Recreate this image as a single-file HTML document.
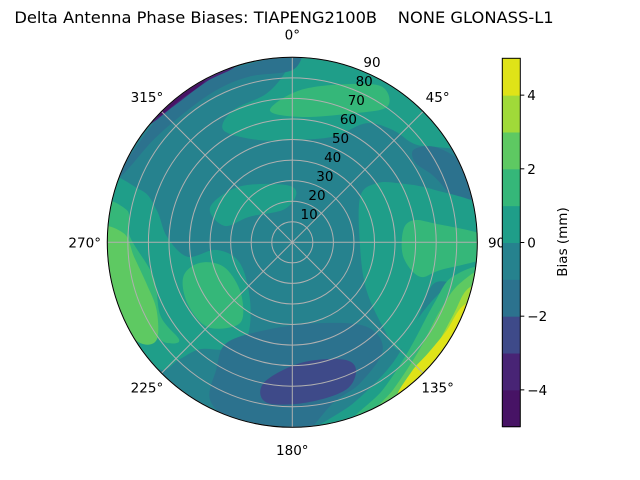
<!DOCTYPE html>
<html><head><meta charset="utf-8">
<style>
body{margin:0;background:#fff;}
#wrap{position:relative;width:640px;height:480px;overflow:hidden;font-family:"DejaVu Sans","Liberation Sans",sans-serif;}
</style></head>
<body>
<div id="wrap">
<svg id="svg" width="640" height="480" xmlns="http://www.w3.org/2000/svg">
<text x="284" y="23" font-size="16.3" text-anchor="middle" xml:space="preserve" style="white-space:pre">Delta Antenna Phase Biases: TIAPENG2100B    NONE GLONASS-L1</text>
</svg>
</div>
<script>
// ---- data ----
const levels = [-5,-4,-3,-2,-1,0,1,2,3,4,5];
const levelColors = ["#471365","#482475","#3e4a89","#2c728e","#26828e","#1f9e89","#35b779","#5ec962","#a0da39","#dfe318"];
const cbTicks = [-4,-2,0,2,4];
const cbTickLabels = ["\u22124","\u22122","0","2","4"];
const ringValues = [10,20,30,40,50,60,70,80,90];
const angleTicks = [0,45,90,135,180,225,270,315];
const baseLevel = 4;
// regions: [levelIndex, points in (east, north) zenith-degree units]
const regions = [
 [5,[[-33.5,54.6],[-28.7,64.3],[-12.5,72.4],[-2.8,83.8],[0.5,95],[36,96],[69,77],[85,53],[95,45],[69,46.5],[59,48],[49,54.6],[36,57.9],[20,51.4],[0.5,49.8],[-17,49.8]]],
 [6,[[-10.9,64.3],[3.7,74],[28,77],[44,75.5],[46,65.8],[28,62.6],[3.7,61]]],
 [3,[[59,45],[69,46.5],[81.5,40],[92,28.7],[92,17.3],[81.5,19],[69,32],[60,38.6]]],
 [5,[[33,22],[41,28.7],[52,28.7],[69,25.6],[95,15.7],[95,-7],[85,-20],[69,-20],[60,-39.4],[52,-52.4],[44,-41],[36,-23],[33,-2.6]]],
 [6,[[54,6],[59,10.7],[69,9.2],[95,2.8],[95,-7],[72,-13.5],[62,-16.7],[54,-7]]],
 [5,[[-40,17],[-26,27],[-4,28],[2,24],[-4,16],[-20.6,12.5],[-33,8]]],
 [5,[[95,-10],[77,-20],[62,-36],[49,-58.5],[30,-78],[7,-95],[52,-90],[95,-36]]],
 [6,[[95,-13.5],[78,-16.7],[69,-29.7],[57,-52],[44,-71.8],[28,-90],[69,-85],[95,-44]]],
 [7,[[95,-13.5],[81.5,-20],[72,-33],[62,-52],[49,-71.8],[36,-88],[77,-77],[95,-39]]],
 [8,[[95,-20],[85,-23],[78,-36],[69,-52],[57,-68.5],[49,-80],[77,-68.5],[95,-36]]],
 [9,[[95,-27],[83,-31],[75,-43],[66,-54],[58,-63],[52,-75],[77,-62],[95,-44]]],
 [5,[[-95,28.7],[-74,25.6],[-66,15.7],[-61,2.8],[-51,-7],[-37,-3.7],[-25.6,-10],[-20.6,-28],[-22,-46],[-32,-52],[-45,-52],[-55,-57],[-64,-62],[-77,-52],[-95,-36]]],
 [6,[[-95,17],[-80.5,15.7],[-79,2.8],[-67.6,-16.7],[-64,-36],[-55,-47.5],[-61,-49],[-67.6,-45.7],[-77,-45.7],[-95,-29.7]]],
 [7,[[-95,6],[-82,4.4],[-77,-7],[-71,-20],[-66,-33],[-66,-47.5],[-74,-49],[-84,-39.4],[-95,-23]]],
 [6,[[-53,-16.7],[-45,-10],[-33.5,-11.8],[-25.6,-23],[-24,-36],[-28.7,-41],[-41.7,-41],[-51,-29.7]]],
 [3,[[-32,-49],[-12.5,-42.6],[11.8,-39.4],[36,-41],[44,-52.4],[33,-68.5],[20,-78],[3.7,-95],[-12.5,-95],[-28.7,-88],[-40,-76.7],[-37,-62]]],
 [2,[[-14,-68.5],[3.7,-58.8],[24.5,-57],[31,-62],[26,-71.8],[6.8,-78],[-12.5,-78]]],
 [3,[[-92,25.6],[-80.5,40],[-69,56],[-56,70],[-37,82],[-16,88],[3.7,95],[0.5,84],[-20.6,80.7],[-37,74],[-53,62.6],[-67.6,49.8],[-80.5,35],[-92,23.8]]],
 [2,[[-79,46],[-66,61],[-47,76],[-26,86],[-12.5,92],[-25,96],[-50,95],[-75,80],[-87,50]]],
 [1,[[-71,57],[-58,66],[-42,78],[-27,87],[-45,95],[-68,72]]],
 [0,[[-66,61],[-55,69],[-42,79.5],[-48,88],[-63,74]]]
];
// ---- layout ----
const cx=292.3, cy=242.3, R=185, rMax=90;
const cbX=502.3, cbW=18, cbTop=58.3, cbBot=426.7;
const NS="http://www.w3.org/2000/svg";
const svg=document.getElementById('svg');
function mk(tag,attrs,parent){const e=document.createElementNS(NS,tag);for(const k in attrs)e.setAttribute(k,attrs[k]);(parent||svg).appendChild(e);return e;}
function sx(u){return cx+u*R/rMax;}
function sy(v){return cy-v*R/rMax;}
function polar(az,r){const a=az*Math.PI/180;return [cx+Math.sin(a)*r*R/rMax, cy-Math.cos(a)*r*R/rMax];}
function cbY(v){return cbBot-(v-levels[0])/(levels[levels.length-1]-levels[0])*(cbBot-cbTop);}
function smoothPath(pts){
  const P=pts.map(p=>[sx(p[0]),sy(p[1])]);const n=P.length;let d="M"+P[0][0].toFixed(1)+","+P[0][1].toFixed(1);
  for(let i=0;i<n;i++){const p0=P[(i-1+n)%n],p1=P[i],p2=P[(i+1)%n],p3=P[(i+2)%n];
    const c1=[p1[0]+(p2[0]-p0[0])/6,p1[1]+(p2[1]-p0[1])/6],c2=[p2[0]-(p3[0]-p1[0])/6,p2[1]-(p3[1]-p1[1])/6];
    d+=" C"+c1[0].toFixed(1)+","+c1[1].toFixed(1)+" "+c2[0].toFixed(1)+","+c2[1].toFixed(1)+" "+p2[0].toFixed(1)+","+p2[1].toFixed(1);}
  return d+"Z";}
const defs=mk('defs',{});
const cp=mk('clipPath',{id:'disk'},defs);
mk('circle',{cx:cx,cy:cy,r:R},cp);
const g=mk('g',{'clip-path':'url(#disk)'});


const base=mk('circle',{cx:cx,cy:cy,r:R,fill:levelColors[baseLevel]},g);


regions.forEach((rg,i)=>{
  const p=mk('path',{d:smoothPath(rg[1]),fill:levelColors[rg[0]]},g);
  
  
});
// grid
ringValues.forEach(v=>{
  const c=mk('circle',{cx:cx,cy:cy,r:v*R/rMax,fill:'none',stroke:'#b0b0b0','stroke-width':1});
  
  
});
angleTicks.forEach(a=>{
  const p=polar(a,rMax);
  const l=mk('line',{x1:cx,y1:cy,x2:p[0],y2:p[1],stroke:'#b0b0b0','stroke-width':1});
  
  
});
const outer=mk('circle',{cx:cx,cy:cy,r:R,fill:'none',stroke:'#000','stroke-width':1});


angleTicks.forEach(a=>{
  const p=polar(a,rMax+(a%90===0?11:10));
  const t=mk('text',{x:p[0],y:p[1]+5,'font-size':13.5,'text-anchor':'middle'});
  t.textContent=a+"\u00b0";
  
  
});
ringValues.forEach(v=>{
  const p=polar(22.5,v+5);
  const t=mk('text',{x:p[0]+5,y:p[1]+5,'font-size':13.5,'text-anchor':'middle'});
  t.textContent=v;
  
  
});
// colorbar
levelColors.forEach((c,i)=>{
  const y1=cbY(levels[i+1]),y0=cbY(levels[i]);
  const r=mk('rect',{x:cbX,y:y1,width:cbW,height:y0-y1+0.5,fill:c});
  
  
});
const cbf=mk('rect',{x:cbX,y:cbTop,width:cbW,height:cbBot-cbTop,fill:'none',stroke:'#000','stroke-width':1});


cbTicks.forEach((v,i)=>{
  const y=cbY(v);
  const l=mk('line',{x1:cbX+cbW,y1:y,x2:cbX+cbW+4,y2:y,stroke:'#000'});
  
  
  const t=mk('text',{x:cbX+cbW+7,y:y+5,'font-size':13.5});
  t.textContent=cbTickLabels[i];
  
  
});
const lab=mk('text',{x:0,y:0,'font-size':13.5,'text-anchor':'middle',transform:'translate(567,242) rotate(-90)'});
lab.textContent="Bias (mm)";


</script>
</body></html>
